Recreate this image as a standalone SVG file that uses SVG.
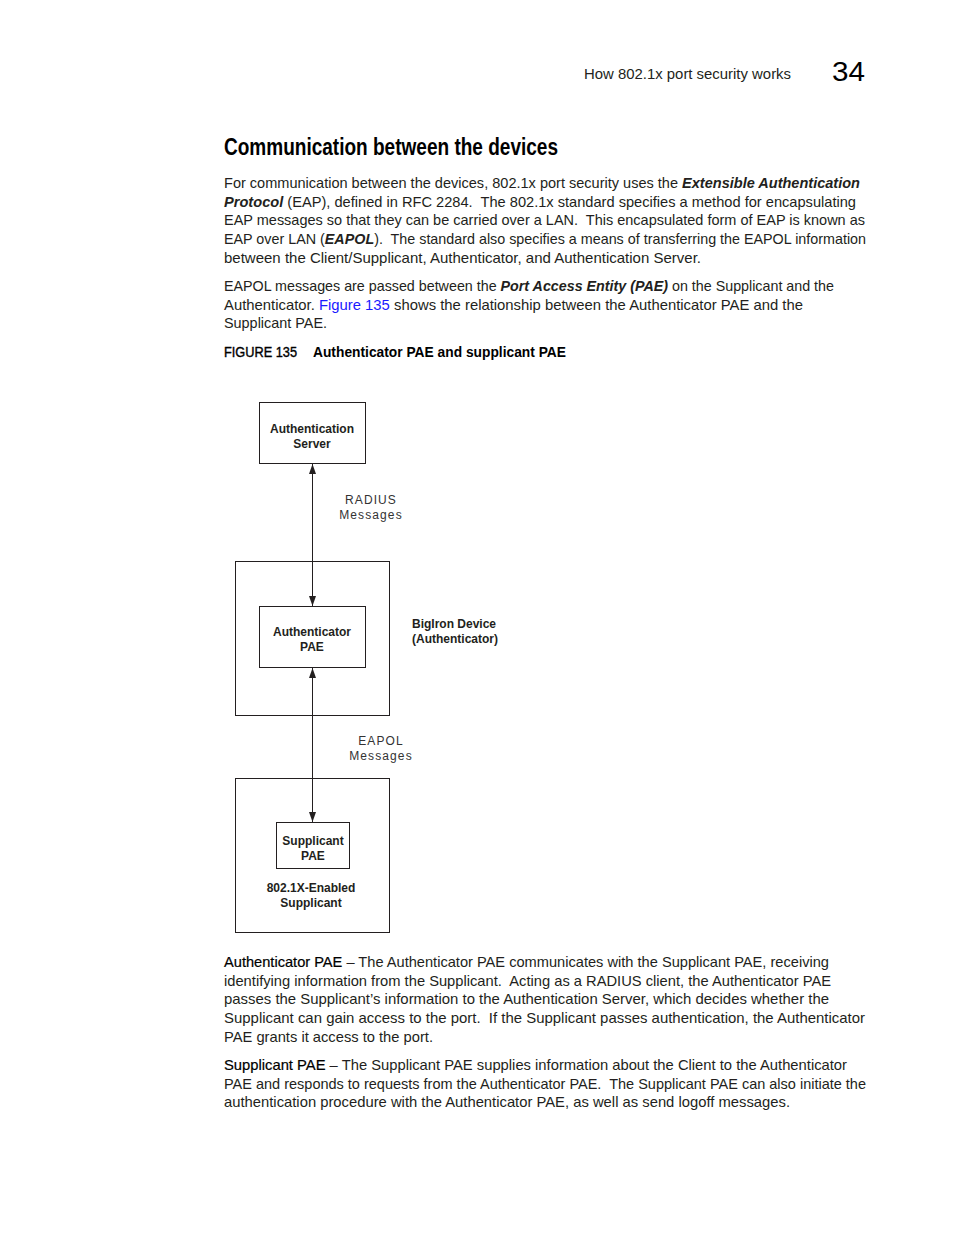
<svg xmlns="http://www.w3.org/2000/svg" width="954" height="1235" viewBox="0 0 954 1235">
<style>
.body{font-family:"Liberation Sans",Arial,sans-serif;font-size:14.5px;fill:#231f20;white-space:pre}
.bi{font-weight:bold;font-style:italic}
.title{font-family:"Liberation Sans",Arial,sans-serif;font-size:23px;fill:#000;font-weight:bold}
.cap{font-family:"Liberation Sans",Arial,sans-serif;font-size:14.5px;fill:#000}
.lbl{font-family:"Liberation Sans",Arial,sans-serif;font-size:12px;font-weight:bold;fill:#231f20;text-anchor:middle}
.msg{font-family:"Liberation Sans",Arial,sans-serif;font-size:12px;fill:#333;text-anchor:middle;letter-spacing:1.1px}
.box{fill:#fff;stroke:#231f20;stroke-width:1}
.conn{stroke:#231f20;stroke-width:1;fill:none}
.term{fill:#000;stroke:#000;stroke-width:0.2px}
</style>
<defs>
<marker id="ah" viewBox="0 0 10 7" refX="10" refY="3.5" markerWidth="10" markerHeight="7" markerUnits="userSpaceOnUse" orient="auto-start-reverse">
<path d="M0,0 L10,3.5 L0,7 Z" fill="#231f20"/>
</marker>
</defs>
<rect width="954" height="1235" fill="#fff"/>
<g id="header">
<text x="584" y="79" font-family="Liberation Sans,Arial,sans-serif" font-size="14" fill="#231f20" textLength="207" lengthAdjust="spacingAndGlyphs">How 802.1x port security works</text>
<text x="832" y="81" font-family="Liberation Sans,Arial,sans-serif" font-size="27" fill="#000" textLength="33" lengthAdjust="spacingAndGlyphs">34</text>
</g>
<g id="title">
<text class="title" x="224" y="155" textLength="334" lengthAdjust="spacingAndGlyphs">Communication between the devices</text>
</g>
<g id="para1">
<text class="body" x="224" y="188" textLength="636" lengthAdjust="spacingAndGlyphs">For communication between the devices, 802.1x port security uses the <tspan class="bi">Extensible Authentication</tspan></text>
<text class="body" x="224" y="207" textLength="632" lengthAdjust="spacingAndGlyphs"><tspan class="bi">Protocol</tspan> (EAP), defined in RFC 2284.  The 802.1x standard specifies a method for encapsulating</text>
<text class="body" x="224" y="225" textLength="641" lengthAdjust="spacingAndGlyphs">EAP messages so that they can be carried over a LAN.  This encapsulated form of EAP is known as</text>
<text class="body" x="224" y="244" textLength="642" lengthAdjust="spacingAndGlyphs">EAP over LAN (<tspan class="bi">EAPOL</tspan>).  The standard also specifies a means of transferring the EAPOL information</text>
<text class="body" x="224" y="263" textLength="477" lengthAdjust="spacingAndGlyphs">between the Client/Supplicant, Authenticator, and Authentication Server.</text>
</g>
<g id="para2">
<text class="body" x="224" y="291" textLength="610" lengthAdjust="spacingAndGlyphs">EAPOL messages are passed between the <tspan class="bi">Port Access Entity (PAE)</tspan> on the Supplicant and the</text>
<text class="body" x="224" y="310" textLength="579" lengthAdjust="spacingAndGlyphs">Authenticator. <tspan fill="#1a1aff">Figure 135</tspan> shows the relationship between the Authenticator PAE and the</text>
<text class="body" x="224" y="328" textLength="103" lengthAdjust="spacingAndGlyphs">Supplicant PAE.</text>
</g>
<g id="caption">
<text class="cap" x="224" y="357" stroke="#000" stroke-width="0.4" textLength="73" lengthAdjust="spacingAndGlyphs">FIGURE 135</text>
<text class="cap" x="313" y="357" font-weight="bold" textLength="253" lengthAdjust="spacingAndGlyphs">Authenticator PAE and supplicant PAE</text>
</g>
<g id="bigiron-device">
<rect class="box" x="235.5" y="561.5" width="154" height="154"/>
<text class="lbl" x="412" y="628" style="text-anchor:start">BigIron Device</text>
<text class="lbl" x="412" y="643" style="text-anchor:start">(Authenticator)</text>
</g>
<g id="supplicant-device">
<rect class="box" x="235.5" y="778.5" width="154" height="154"/>
<text class="lbl" x="311" y="892">802.1X-Enabled</text>
<text class="lbl" x="311" y="907">Supplicant</text>
</g>
<g id="auth-server">
<rect class="box" x="259.5" y="402.5" width="106" height="61"/>
<text class="lbl" x="312" y="433">Authentication</text>
<text class="lbl" x="312" y="448">Server</text>
</g>
<g id="authenticator-pae">
<rect class="box" x="259.5" y="606.5" width="106" height="61"/>
<text class="lbl" x="312" y="636">Authenticator</text>
<text class="lbl" x="312" y="651">PAE</text>
</g>
<g id="supplicant-pae">
<rect class="box" x="276.5" y="822.5" width="73" height="46"/>
<text class="lbl" x="313" y="845">Supplicant</text>
<text class="lbl" x="313" y="860">PAE</text>
</g>
<g id="connectors">
<line class="conn" x1="312.5" y1="464" x2="312.5" y2="606" marker-start="url(#ah)" marker-end="url(#ah)"/>
<line class="conn" x1="312.5" y1="668" x2="312.5" y2="822" marker-start="url(#ah)" marker-end="url(#ah)"/>
<text class="msg" x="371" y="504">RADIUS</text>
<text class="msg" x="371" y="519">Messages</text>
<text class="msg" x="381" y="745">EAPOL</text>
<text class="msg" x="381" y="760">Messages</text>
</g>
<g id="para3">
<text class="body" x="224" y="967" textLength="605" lengthAdjust="spacingAndGlyphs"><tspan class="term">Authenticator PAE</tspan> – The Authenticator PAE communicates with the Supplicant PAE, receiving</text>
<text class="body" x="224" y="986" textLength="607" lengthAdjust="spacingAndGlyphs">identifying information from the Supplicant.  Acting as a RADIUS client, the Authenticator PAE</text>
<text class="body" x="224" y="1004" textLength="605" lengthAdjust="spacingAndGlyphs">passes the Supplicant’s information to the Authentication Server, which decides whether the</text>
<text class="body" x="224" y="1023" textLength="641" lengthAdjust="spacingAndGlyphs">Supplicant can gain access to the port.  If the Supplicant passes authentication, the Authenticator</text>
<text class="body" x="224" y="1042" textLength="209" lengthAdjust="spacingAndGlyphs">PAE grants it access to the port.</text>
</g>
<g id="para4">
<text class="body" x="224" y="1070" textLength="623" lengthAdjust="spacingAndGlyphs"><tspan class="term">Supplicant PAE</tspan> – The Supplicant PAE supplies information about the Client to the Authenticator</text>
<text class="body" x="224" y="1089" textLength="642" lengthAdjust="spacingAndGlyphs">PAE and responds to requests from the Authenticator PAE.  The Supplicant PAE can also initiate the</text>
<text class="body" x="224" y="1107" textLength="566" lengthAdjust="spacingAndGlyphs">authentication procedure with the Authenticator PAE, as well as send logoff messages.</text>
</g>
</svg>
